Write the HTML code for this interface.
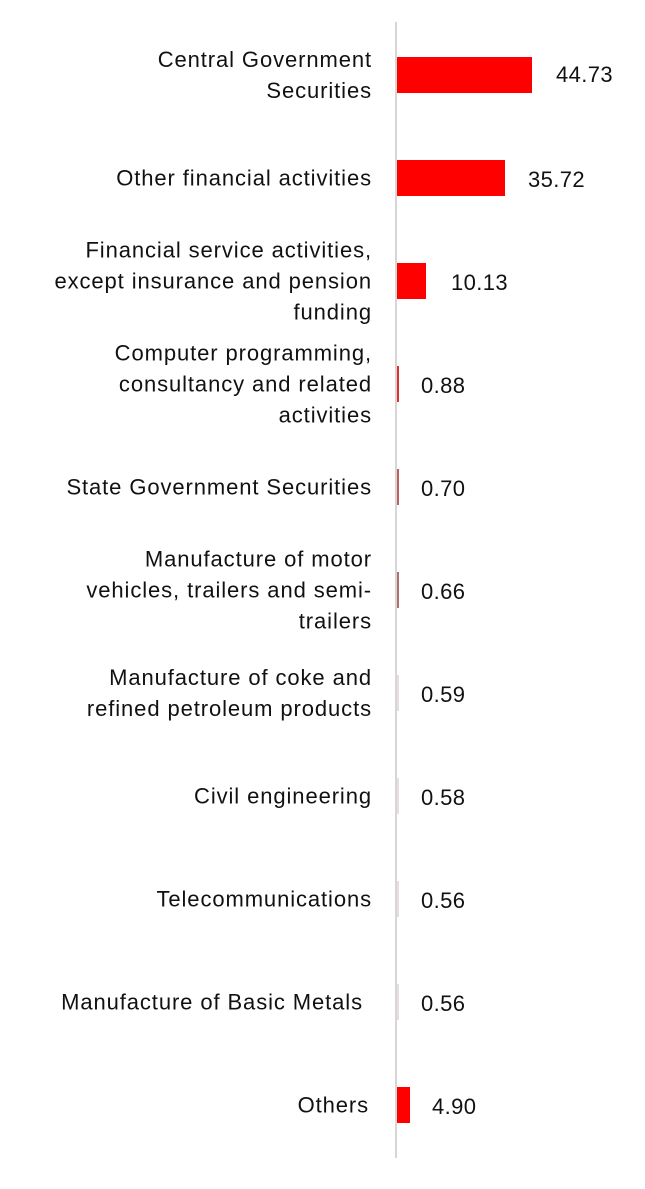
<!DOCTYPE html>
<html><head><meta charset="utf-8"><style>
body{margin:0;background:#fff;width:645px;height:1189px;position:relative;overflow:hidden;font-family:"Liberation Sans",sans-serif;color:#111}
.ax{position:absolute;left:395px;top:22px;width:2px;height:1136px;background:#d6d6d6}
.bar{position:absolute;left:397px;height:36px;background:#ff0000}
.lab{position:absolute;right:273px;width:380px;text-align:right;font-size:22px;letter-spacing:0.9px;line-height:31px;transform:translateY(-50%)}
.val{position:absolute;font-size:22px;letter-spacing:0.4px;line-height:24px;transform:translateY(-50%)}
</style></head><body>
<div class="ax"></div>

<div class="lab" style="top:75px">Central Government<br>Securities</div>
<div class="bar" style="top:57px;width:135px"></div>
<div class="val" style="top:75px;left:556px">44.73</div>

<div class="lab" style="top:178px">Other financial activities</div>
<div class="bar" style="top:160px;width:108px"></div>
<div class="val" style="top:180px;left:528px">35.72</div>

<div class="lab" style="top:281px">Financial service activities,<br>except insurance and pension<br>funding</div>
<div class="bar" style="top:263px;width:29px"></div>
<div class="val" style="top:283px;left:451px">10.13</div>

<div class="lab" style="top:384px">Computer programming,<br>consultancy and related<br>activities</div>
<div class="bar" style="top:366px;width:2px;background:#e03030"></div>
<div class="val" style="top:386px;left:421px">0.88</div>

<div class="lab" style="top:487px">State Government Securities</div>
<div class="bar" style="top:469px;width:2px;background:#c06060"></div>
<div class="val" style="top:489px;left:421px">0.70</div>

<div class="lab" style="top:590px">Manufacture of motor<br>vehicles, trailers and semi-<br>trailers</div>
<div class="bar" style="top:572px;width:2px;background:#b07070"></div>
<div class="val" style="top:592px;left:421px">0.66</div>

<div class="lab" style="top:693px">Manufacture of coke and<br>refined petroleum products</div>
<div class="bar" style="top:675px;width:2px;background:#e8dcdc"></div>
<div class="val" style="top:695px;left:421px">0.59</div>

<div class="lab" style="top:796px">Civil engineering</div>
<div class="bar" style="top:778px;width:2px;background:#e8dcdc"></div>
<div class="val" style="top:798px;left:421px">0.58</div>

<div class="lab" style="top:899px">Telecommunications</div>
<div class="bar" style="top:881px;width:2px;background:#e8dcdc"></div>
<div class="val" style="top:901px;left:421px">0.56</div>

<div class="lab" style="top:1002px;right:282px">Manufacture of Basic Metals</div>
<div class="bar" style="top:984px;width:2px;background:#e8dcdc"></div>
<div class="val" style="top:1004px;left:421px">0.56</div>

<div class="lab" style="top:1105px;right:276px">Others</div>
<div class="bar" style="top:1087px;width:13px"></div>
<div class="val" style="top:1107px;left:432px">4.90</div>
</body></html>
